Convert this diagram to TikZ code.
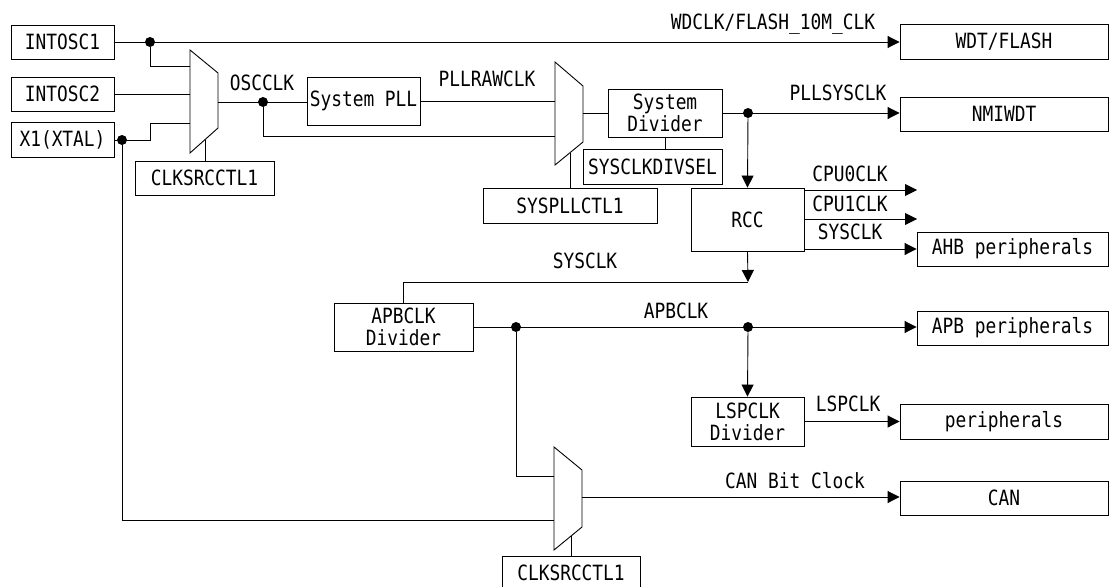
\documentclass[tikz,border=0pt]{standalone}
\usepackage{fontspec}
\setmainfont{DejaVu Sans Mono}[FakeStretch=0.85]
\usepackage{tikz}
\usetikzlibrary{shapes, arrows.meta, positioning}
\tikzstyle{block} = [rectangle, draw, text centered, align=center, inner sep=1pt]
\tikzstyle{junction} = [circle, fill, inner sep=0pt, minimum size=10pt]
\tikzstyle{connector} = [draw, -{Triangle[length=12pt, width=12pt]}]
\tikzstyle{wire} = [draw]
\tikzstyle{mux} = [draw, fill=white]

\begin{document}
\begin{tikzpicture}[x=1pt, y=-1pt, line width=0.9pt, font=\fontsize{21}{22}\selectfont]
\useasboundingbox (0,0) rectangle (1110,586);

% sources
\node [block, minimum width=103pt, minimum height=34pt] at (62.5,42) (intosc1) {INTOSC1};
\node [block, minimum width=103pt, minimum height=34pt] at (62.5,94) (intosc2) {INTOSC2};
\node [block, minimum width=103pt, minimum height=35pt] at (62.5,140) (xtal) {X1(XTAL)};

\node [block, minimum width=139pt, minimum height=34pt] at (204.5,178) (clksrc1) {CLKSRCCTL1};
\node [block, minimum width=113pt, minimum height=48pt] at (363.5,101) (syspll) {System PLL};
\node [block, minimum width=114pt, minimum height=48pt] at (665,113) (sysdiv) {System\\Divider};
\node [block, minimum width=139pt, minimum height=35pt] at (652.5,166.5) (divsel) {SYSCLKDIVSEL};
\node [block, minimum width=174pt, minimum height=35pt] at (570,205.5) (pllctl) {SYSPLLCTL1};

\node [block, minimum width=113pt, minimum height=63pt] at (747.5,219.5) (rcc) {RCC};
\node [block, minimum width=139pt, minimum height=48pt] at (403.5,327) (apbdiv) {APBCLK\\Divider};
\node [block, minimum width=113pt, minimum height=49pt] at (747.5,421.5) (lspdiv) {LSPCLK\\Divider};
\node [block, minimum width=138pt, minimum height=34pt] at (571,573) (clksrc2) {CLKSRCCTL1};

% targets
\node [block, minimum width=208pt, minimum height=35pt] at (1004,41.5) (wdt) {WDT/FLASH};
\node [block, minimum width=208pt, minimum height=34pt] at (1004,114) (nmiwdt) {NMIWDT};
\node [block, minimum width=191pt, minimum height=34pt] at (1012.5,249) (ahb) {AHB peripherals};
\node [block, minimum width=191pt, minimum height=34pt] at (1012.5,328) (apb) {APB peripherals};
\node [block, minimum width=208pt, minimum height=35pt] at (1004,421.5) (periph) {peripherals};
\node [block, minimum width=208pt, minimum height=34pt] at (1004,498) (can) {CAN};

% muxes
\draw [mux] (190,50) -- (218,73) -- (218,128) -- (190,153) -- cycle;
\draw [mux] (555,62) -- (583,86) -- (583,142) -- (555,165) -- cycle;
\draw [mux] (554,447) -- (582,470) -- (582,527) -- (554,550) -- cycle;
\coordinate (mux1_in1) at (190,66);
\coordinate (mux1_in2) at (190,94);
\coordinate (mux1_in3) at (190,123);
\coordinate (mux1_out) at (218,102);
\coordinate (mux1_sel) at (205,139.6);
\coordinate (mux2_in1) at (555,101);
\coordinate (mux2_in2) at (555,136);
\coordinate (mux2_out) at (583,113);
\coordinate (mux2_sel) at (570,152.7);
\coordinate (mux3_in1) at (554,476);
\coordinate (mux3_in2) at (554,520);
\coordinate (mux3_out) at (582,497);
\coordinate (mux3_sel) at (571,536);

% junctions
\node [junction] at (150,42) (j_osc1) {};
\node [junction] at (122,140) (j_xtal) {};
\node [junction] at (263,102) (j_osc) {};
\node [junction] at (748,113) (j_sys) {};
\node [junction] at (516,327) (j_apb1) {};
\node [junction] at (748,327) (j_apb2) {};
\coordinate (c_sysclk) at (748,282);
\coordinate (cpu0_end) at (917,190);
\coordinate (cpu1_end) at (917,219);

% labels
\node[draw=none] at (773,24) (lbl_wdclk) {WDCLK/FLASH\_10M\_CLK};
\node[draw=none] at (262,83) (lbl_oscclk) {OSCCLK};
\node[draw=none] at (487,79) (lbl_pllraw) {PLLRAWCLK};
\node[draw=none] at (838,93) (lbl_pllsys) {PLLSYSCLK};
\node[draw=none] at (850,174) (lbl_cpu0) {CPU0CLK};
\node[draw=none] at (850,204) (lbl_cpu1) {CPU1CLK};
\node[draw=none] at (850,232) (lbl_sysclk1) {SYSCLK};
\node[draw=none] at (585,261) (lbl_sysclk2) {SYSCLK};
\node[draw=none] at (676,311) (lbl_apbclk) {APBCLK};
\node[draw=none] at (848,404) (lbl_lspclk) {LSPCLK};
\node[draw=none] at (795,481) (lbl_canbit) {CAN Bit Clock};

% oscillator side
\path [connector] (intosc1.east) -- (wdt.west |- intosc1.east);
\path [wire] (j_osc1) |- (mux1_in1);
\path [wire] (intosc2.east) -- (mux1_in2);
\path [wire] (xtal.east) -- (j_xtal) -- (j_xtal -| j_osc1) |- (mux1_in3);
\path [wire] (j_xtal) |- (mux3_in2);
\path [wire] (mux1_sel) -- (mux1_sel |- clksrc1.north);

% pll side
\path [wire] (mux1_out) -- (syspll.west |- mux1_out);
\path [wire] (j_osc) |- (mux2_in2);
\path [wire] (syspll.east) -- (mux2_in1);
\path [wire] (mux2_sel) -- (mux2_sel |- pllctl.north);
\path [wire] (mux2_out) -- (sysdiv.west |- mux2_out);
\path [wire] (sysdiv.south) -- (sysdiv.south |- divsel.north);
\path [connector] (sysdiv.east) -- (nmiwdt.west |- sysdiv.east);
\path [connector] (j_sys) -- (rcc.north);

% rcc outputs
\path [connector] (rcc.east |- cpu0_end) -- (cpu0_end);
\path [connector] (rcc.east |- cpu1_end) -- (cpu1_end);
\path [connector] (rcc.east |- ahb.west) -- (ahb.west);
\path [connector] (rcc.south) -- (c_sysclk);
\path [wire] (c_sysclk) -| (apbdiv.north);

% apb side
\path [connector] (apbdiv.east) -- (apb.west |- apbdiv.east);
\path [connector] (j_apb2) -- (lspdiv.north);
\path [connector] (lspdiv.east) -- (periph.west);
\path [wire] (j_apb1) |- (mux3_in1);
\path [connector] (mux3_out) -- (can.west |- mux3_out);
\path [wire] (mux3_sel) -- (mux3_sel |- clksrc2.north);

\end{tikzpicture}
\end{document}
